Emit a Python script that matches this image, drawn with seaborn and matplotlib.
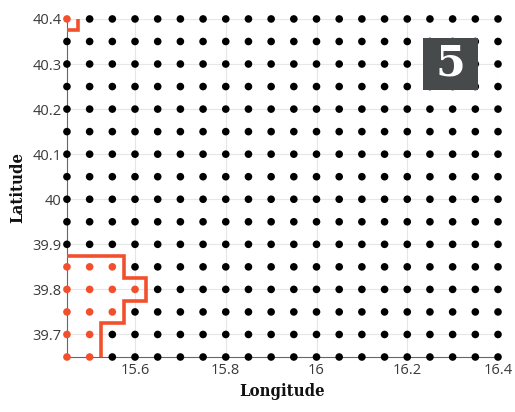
import numpy as np
import pandas as pd
import matplotlib
matplotlib.use("Agg")
import matplotlib.pyplot as plt
import seaborn as sns
from matplotlib.patches import Rectangle

# ---- data ----
lon_values = [15.45, 15.50, 15.55, 15.60, 15.65, 15.70, 15.75, 15.80, 15.85, 15.90,
              15.95, 16.00, 16.05, 16.10, 16.15, 16.20, 16.25, 16.30, 16.35, 16.40]
lat_values = [39.65, 39.70, 39.75, 39.80, 39.85, 39.90, 39.95, 40.00,
              40.05, 40.10, 40.15, 40.20, 40.25, 40.30, 40.35, 40.40]
# flagged (red) grid points
red_lon = [15.45, 15.45, 15.50, 15.55, 15.45, 15.50, 15.55, 15.60,
           15.45, 15.50, 15.55, 15.45, 15.50, 15.45, 15.50]
red_lat = [40.40, 39.85, 39.85, 39.85, 39.80, 39.80, 39.80, 39.80,
           39.75, 39.75, 39.75, 39.70, 39.70, 39.65, 39.65]
# region boundaries
boundary1_lon = [15.45, 15.575, 15.575, 15.625, 15.625, 15.575, 15.575, 15.525, 15.525]
boundary1_lat = [39.875, 39.875, 39.825, 39.825, 39.775, 39.775, 39.725, 39.725, 39.65]
boundary2_lon = [15.45, 15.475, 15.475]
boundary2_lat = [40.375, 40.375, 40.40]
x_ticks = [15.6, 15.8, 16.0, 16.2, 16.4]
x_ticklabels = ["15.6", "15.8", "16", "16.2", "16.4"]
y_ticks = [39.7, 39.8, 39.9, 40.0, 40.1, 40.2, 40.3, 40.4]
y_ticklabels = ["39.7", "39.8", "39.9", "40", "40.1", "40.2", "40.3", "40.4"]
panel_label = "5"

RED = "#f2502c"

# ---- build table ----
LON, LAT = np.meshgrid(lon_values, lat_values)
df = pd.DataFrame({"lon": LON.ravel(), "lat": LAT.ravel()})
red_set = {(round(a, 3), round(b, 3)) for a, b in zip(red_lon, red_lat)}
df["flag"] = ["red" if (round(a, 3), round(b, 3)) in red_set else "black"
              for a, b in zip(df["lon"], df["lat"])]

sns.set_theme(style="white")
plt.rcParams["font.family"] = ["Open Sans", "DejaVu Sans"]

fig = plt.figure(figsize=(5.15, 4.12), dpi=100)
ax = fig.add_axes([0.130, 0.1335, 0.837, 0.8205])

ax.grid(True, color="#e6e6e6", linewidth=0.8, zorder=0)
ax.set_axisbelow(True)

sns.scatterplot(data=df[df.flag == "black"], x="lon", y="lat", color="black",
                s=30, edgecolor="none", ax=ax, zorder=3, clip_on=False, legend=False)
sns.scatterplot(data=df[df.flag == "red"], x="lon", y="lat", color=RED,
                s=30, edgecolor="none", ax=ax, zorder=3, clip_on=False, legend=False)

b1 = pd.DataFrame({"lon": boundary1_lon, "lat": boundary1_lat})
b2 = pd.DataFrame({"lon": boundary2_lon, "lat": boundary2_lat})
for b in (b1, b2):
    ax.plot(b["lon"], b["lat"], color=RED, linewidth=2.6, zorder=4,
            solid_joinstyle="miter", solid_capstyle="butt", clip_on=False)

ax.set_xlim(lon_values[0], lon_values[-1])
ax.set_ylim(lat_values[0], lat_values[-1])
ax.set_xticks(x_ticks)
ax.set_xticklabels(x_ticklabels)
ax.set_yticks(y_ticks)
ax.set_yticklabels(y_ticklabels)
ax.tick_params(axis="both", length=0, labelsize=10.5, labelcolor="#3a3a3a", pad=4)

for side in ("top", "right"):
    ax.spines[side].set_visible(False)
for side in ("left", "bottom"):
    ax.spines[side].set_color("#666666")
    ax.spines[side].set_linewidth(0.8)

label_font = dict(fontsize=12, fontweight="bold", family="DejaVu Serif",
                  fontstretch="condensed", color="#111111")
ax.set_xlabel("Longitude", labelpad=4, **label_font)
ax.set_ylabel("Latitude", labelpad=4, **label_font)

ax.add_patch(Rectangle((0.826, 0.79), 0.128, 0.154, transform=ax.transAxes,
                       facecolor="#474a4a", edgecolor="none", zorder=5))
ax.text(0.89, 0.867, panel_label, transform=ax.transAxes, ha="center", va="center",
        fontsize=31, fontweight="bold", family="DejaVu Serif", color="white", zorder=6)

fig.savefig("out.png", dpi=100)
